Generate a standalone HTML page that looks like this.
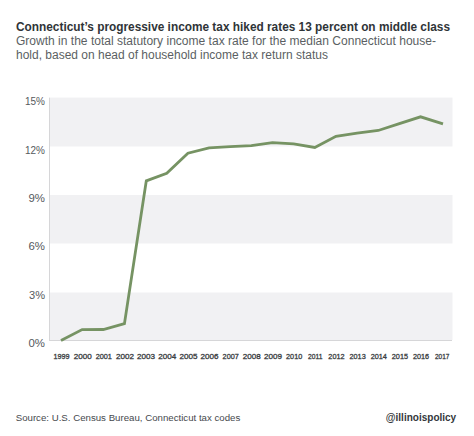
<!DOCTYPE html>
<html><head><meta charset="utf-8">
<style>
html,body{margin:0;padding:0;background:#fff;width:474px;height:436px;overflow:hidden}
svg{display:block}
text{font-family:"Liberation Sans",sans-serif}
</style></head>
<body>
<svg width="474" height="436" viewBox="0 0 474 436">
<rect x="0" y="0" width="474" height="436" fill="#fff"/>
<!-- titles -->
<text x="16" y="30.6" font-size="12" font-weight="bold" fill="#2f3438" textLength="434" lengthAdjust="spacingAndGlyphs">Connecticut’s progressive income tax hiked rates 13 percent on middle class</text>
<text x="16" y="45.1" font-size="12" fill="#5b5f63" textLength="420" lengthAdjust="spacingAndGlyphs">Growth in the total statutory income tax rate for the median Connecticut house-</text>
<text x="16" y="59.2" font-size="12" fill="#5b5f63" textLength="312" lengthAdjust="spacingAndGlyphs">hold, based on head of household income tax return status</text>
<!-- plot bands -->
<rect x="50" y="97.6" width="402.5" height="48.9" fill="#f1f1f3"/>
<rect x="50" y="195" width="402.5" height="48.5" fill="#f1f1f3"/>
<rect x="50" y="292.5" width="402.5" height="47.5" fill="#f1f1f3"/>
<!-- axes -->
<rect x="49" y="97.6" width="1" height="243" fill="#d6d6d8"/>
<rect x="49" y="340" width="403" height="1" fill="#d6d6d8"/>
<!-- y labels -->
<g font-size="11.5" fill="#55595d" text-anchor="end">
<text x="45" y="105.2" textLength="20" lengthAdjust="spacingAndGlyphs">15%</text>
<text x="45" y="153.6" textLength="20" lengthAdjust="spacingAndGlyphs">12%</text>
<text x="45" y="202.0" textLength="16.5" lengthAdjust="spacingAndGlyphs">9%</text>
<text x="45" y="250.4" textLength="16.5" lengthAdjust="spacingAndGlyphs">6%</text>
<text x="45" y="298.9" textLength="16" lengthAdjust="spacingAndGlyphs">3%</text>
<text x="45" y="347.3" textLength="16.5" lengthAdjust="spacingAndGlyphs">0%</text>
</g>
<!-- x labels -->
<g font-size="7.3" fill="#3a3e42" stroke="#3a3e42" stroke-width="0.3" text-anchor="middle">
<text x="61.50" y="358.5" textLength="16" lengthAdjust="spacingAndGlyphs">1999</text>
<text x="82.65" y="358.5" textLength="18" lengthAdjust="spacingAndGlyphs">2000</text>
<text x="103.80" y="358.5" textLength="16.2" lengthAdjust="spacingAndGlyphs">2001</text>
<text x="124.95" y="358.5" textLength="18" lengthAdjust="spacingAndGlyphs">2002</text>
<text x="146.10" y="358.5" textLength="18" lengthAdjust="spacingAndGlyphs">2003</text>
<text x="167.25" y="358.5" textLength="18" lengthAdjust="spacingAndGlyphs">2004</text>
<text x="188.40" y="358.5" textLength="18" lengthAdjust="spacingAndGlyphs">2005</text>
<text x="209.55" y="358.5" textLength="18" lengthAdjust="spacingAndGlyphs">2006</text>
<text x="230.70" y="358.5" textLength="16.2" lengthAdjust="spacingAndGlyphs">2007</text>
<text x="251.85" y="358.5" textLength="18" lengthAdjust="spacingAndGlyphs">2008</text>
<text x="273.00" y="358.5" textLength="18" lengthAdjust="spacingAndGlyphs">2009</text>
<text x="294.15" y="358.5" textLength="16.2" lengthAdjust="spacingAndGlyphs">2010</text>
<text x="315.30" y="358.5" textLength="14.4" lengthAdjust="spacingAndGlyphs">2011</text>
<text x="336.45" y="358.5" textLength="16.2" lengthAdjust="spacingAndGlyphs">2012</text>
<text x="357.60" y="358.5" textLength="16.2" lengthAdjust="spacingAndGlyphs">2013</text>
<text x="378.75" y="358.5" textLength="16.2" lengthAdjust="spacingAndGlyphs">2014</text>
<text x="399.90" y="358.5" textLength="16.2" lengthAdjust="spacingAndGlyphs">2015</text>
<text x="421.05" y="358.5" textLength="16.2" lengthAdjust="spacingAndGlyphs">2016</text>
<text x="442.20" y="358.5" textLength="14.4" lengthAdjust="spacingAndGlyphs">2017</text>
</g>
<!-- line -->
<polyline fill="none" stroke="#769363" stroke-width="2.8" stroke-linejoin="miter" stroke-linecap="butt"
 points="61,340.4 82.15,329.6 103.3,329.5 124.45,323.7 146.3,180.9 166.75,173.3 187.9,153.2 209.05,147.9 230.2,146.6 251.35,145.7 272.5,142.6 293.65,143.9 314.8,147.5 335.95,136.3 357.1,133.2 378.25,130.5 399.4,123.7 420.55,116.8 443,123.9"/>
<!-- footer -->
<text x="15.7" y="421.1" font-size="9.7" fill="#46494d" textLength="224.6" lengthAdjust="spacingAndGlyphs">Source: U.S. Census Bureau, Connecticut tax codes</text>
<text x="385.8" y="420.8" font-size="10.6" font-weight="bold" fill="#33373b" textLength="70.4" lengthAdjust="spacingAndGlyphs">@illinoispolicy</text>
</svg>
</body></html>
